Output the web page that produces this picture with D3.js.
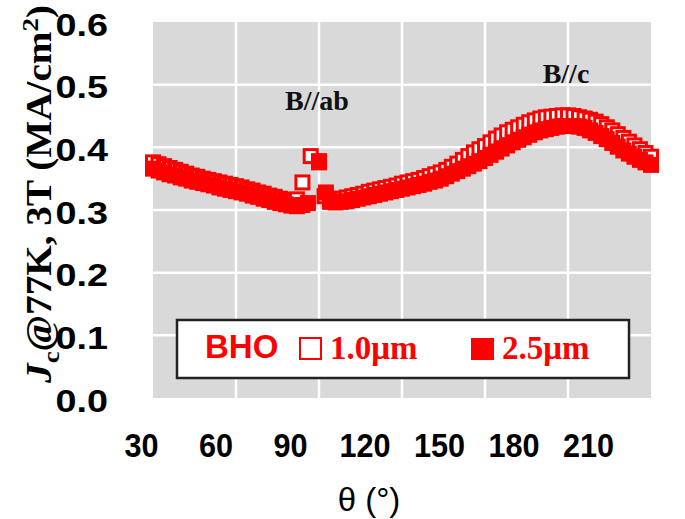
<!DOCTYPE html>
<html><head><meta charset="utf-8">
<script src="https://cdn.jsdelivr.net/npm/d3@7"></script>
<style>body{margin:0;background:#fff}</style></head>
<body><svg id="c" width="685" height="519"></svg>
<script>
// ---- data ----
const theta10 = [30,32,34,36,38,40,42,44,46,48,50,52,54,56,58,60,62,64,66,68,70,72,74,76,78,80,82,84,87,90,92,
  94,96,98,100,102,104,106,108,110,112,114,116,118,120,122,124,126,128,130,132,134,136,138,140,142,144,146,148,150,
  152,154,156,158,160,162,164,166,168,170,172,174,176,178,180,182,184,186,188,190,192,194,196,198,200,202,204,206,208,210];
const jc10 = [0.376,0.373,0.370,0.367,0.364,0.361,0.358,0.355,0.353,0.350,0.348,0.346,0.344,0.342,0.340,0.338,0.336,0.333,0.331,0.328,0.326,0.323,0.321,0.318,0.316,0.314,0.317,0.344,0.386,0.378,0.322,
  0.318,0.317,0.318,0.320,0.322,0.324,0.326,0.329,0.331,0.333,0.335,0.337,0.339,0.342,0.344,0.346,0.348,0.351,0.354,0.357,0.360,0.364,0.369,0.374,0.380,0.386,0.392,0.397,0.402,
  0.408,0.414,0.419,0.424,0.428,0.432,0.436,0.440,0.443,0.446,0.448,0.449,0.450,0.451,0.451,0.450,0.448,0.446,0.444,0.441,0.437,0.432,0.427,0.421,0.415,0.409,0.403,0.397,0.391,0.385];
const theta25 = [30,32,34,36,38,40,42,44,46,48,50,52,54,56,58,60,62,64,66,68,70,72,74,76,78,80,82,84,86,90,92.5,
  94,96,98,100,102,104,106,108,110,112,114,116,118,120,122,124,126,128,130,132,134,136,138,140,142,144,146,148,150,
  152,154,156,158,160,162,164,166,168,170,172,174,176,178,180,182,184,186,188,190,192,194,196,198,200,202,204,206,208,210];
const jc25 = [0.366,0.363,0.360,0.357,0.355,0.352,0.350,0.347,0.345,0.343,0.341,0.339,0.336,0.334,0.332,0.330,0.328,0.326,0.323,0.321,0.318,0.316,0.313,0.311,0.309,0.307,0.306,0.308,0.311,0.376,0.328,
  0.313,0.312,0.313,0.314,0.316,0.318,0.320,0.322,0.324,0.326,0.328,0.330,0.332,0.334,0.336,0.338,0.340,0.342,0.345,0.347,0.350,0.354,0.358,0.362,0.366,0.370,0.374,0.378,0.383,
  0.388,0.393,0.398,0.403,0.408,0.412,0.416,0.420,0.424,0.427,0.429,0.431,0.433,0.434,0.434,0.434,0.433,0.431,0.427,0.423,0.418,0.413,0.407,0.401,0.395,0.390,0.385,0.380,0.376,0.372];
const xTicks = [30,60,90,120,150,180,210];
const yTicks = [0,0.1,0.2,0.3,0.4,0.5,0.6];
const seriesNames = ["1.0μm","2.5μm"];
const groupName = "BHO";
const annotations = [{text:"B//ab", theta:90, jc:0.46},{text:"B//c", theta:180, jc:0.502}];

// ---- layout ----
const RED = "#ff0000";
const svg = d3.select("#c");
const x = d3.scaleLinear().domain([30,210]).range([153,651]);
const y = d3.scaleLinear().domain([0,0.6]).range([398,22]);
const xLab = d3.scaleLinear().domain([30,210]).range([141,588]);

// plot background
svg.append("rect").attr("x",x(30)).attr("y",y(0.6)).attr("width",x(210)-x(30)).attr("height",y(0)-y(0.6)).attr("fill","#d9d9d9");
// grid
svg.append("g").selectAll("line").data(xTicks.slice(1,-1)).join("line")
  .attr("x1",d=>x(d)).attr("x2",d=>x(d)).attr("y1",y(0.6)).attr("y2",y(0))
  .attr("stroke","#fff").attr("stroke-width",2.5);
svg.append("g").selectAll("line").data(yTicks.slice(1,-1)).join("line")
  .attr("y1",d=>y(d)).attr("y2",d=>y(d)).attr("x1",x(30)).attr("x2",x(210))
  .attr("stroke","#fff").attr("stroke-width",2.5);

// y axis labels
const gy = svg.append("g").attr("transform",`translate(108,0)`)
  .call(d3.axisLeft(y).tickValues(yTicks).tickFormat(d3.format(".1f")).tickSize(0).tickPadding(0));
gy.select(".domain").remove();
gy.selectAll("text").attr("font-family","Liberation Sans, Arial, sans-serif").attr("font-weight","bold")
  .attr("font-size",32).attr("fill","#000").attr("dy","13px")
  .each(function(){const w=this.getComputedTextLength(); d3.select(this).attr("textLength",w*1.18).attr("lengthAdjust","spacingAndGlyphs");});

// x axis labels
const gx = svg.append("g").attr("transform",`translate(0,457)`)
  .call(d3.axisBottom(xLab).tickValues(xTicks).tickSize(0).tickPadding(0));
gx.select(".domain").remove();
gx.selectAll("text").attr("font-family","Liberation Sans, Arial, sans-serif").attr("font-weight","bold")
  .attr("font-size",34).attr("fill","#000").attr("dy","0")
  .each(function(){const w=this.getComputedTextLength(); d3.select(this).attr("textLength",w*0.9).attr("lengthAdjust","spacingAndGlyphs");});

// axis titles
svg.append("text").attr("x",369).attr("y",511).attr("text-anchor","middle")
  .attr("font-family","Liberation Sans, Arial, sans-serif").attr("font-size",33).attr("fill","#000").text("θ (°)");

const yt = svg.append("text").attr("text-anchor","middle")
  .attr("font-family","Liberation Serif, Times New Roman, serif").attr("font-weight","bold").attr("font-size",35).attr("fill","#000");
yt.append("tspan").attr("font-style","italic").text("J");
yt.append("tspan").attr("font-size",24).attr("dy",8).text("c");
yt.append("tspan").attr("dy",-8).text("@77K, 3T (MA/cm");
yt.append("tspan").attr("font-size",24).attr("dy",-13).text("2");
yt.append("tspan").attr("dy",13).text(")");
const ytl = yt.node().getComputedTextLength();
yt.attr("transform",`translate(51,194) rotate(-90) scale(${378/ytl},1)`);

// markers: hollow (1.0um) under, filled (2.5um) on top
const d10 = theta10.map((t,i)=>({t, v:jc10[i]}));
const d25 = theta25.map((t,i)=>({t, v:jc25[i]}));
const S = 13;
svg.append("g").selectAll("rect").data(d10).join("rect")
  .attr("x",d=>x(d.t)-S/2).attr("y",d=>y(d.v)-S/2).attr("width",S).attr("height",S)
  .attr("fill","#fff").attr("stroke",RED).attr("stroke-width",3);
const F = 16;
svg.append("g").selectAll("rect").data(d25).join("rect")
  .attr("x",d=>x(d.t)-F/2).attr("y",d=>y(d.v)-F/2).attr("width",F).attr("height",F)
  .attr("fill",RED);

// annotations
svg.append("g").selectAll("text").data(annotations).join("text")
  .attr("x",d=>x(d.theta)-2).attr("y",d=>y(d.jc)).attr("text-anchor","middle")
  .attr("font-family","Liberation Serif, Times New Roman, serif").attr("font-weight","bold").attr("font-size",28)
  .attr("fill","#111").text(d=>d.text);

// legend
const lg = svg.append("g");
lg.append("rect").attr("x",177).attr("y",320).attr("width",452).attr("height",58)
  .attr("fill","#fff").attr("stroke","#222").attr("stroke-width",2.5);
lg.append("text").attr("x",205).attr("y",358).attr("font-family","Liberation Sans, Arial, sans-serif")
  .attr("font-weight","bold").attr("font-size",33).attr("fill",RED).text(groupName);
lg.append("rect").attr("x",300).attr("y",338).attr("width",21).attr("height",21)
  .attr("fill","#fff").attr("stroke",RED).attr("stroke-width",2);
lg.append("text").attr("x",330).attr("y",359).attr("font-family","Liberation Serif, Times New Roman, serif")
  .attr("font-weight","bold").attr("font-size",33).attr("fill",RED).text(seriesNames[0]);
lg.append("rect").attr("x",471).attr("y",338).attr("width",23).attr("height",22).attr("fill",RED);
lg.append("text").attr("x",502).attr("y",359).attr("font-family","Liberation Serif, Times New Roman, serif")
  .attr("font-weight","bold").attr("font-size",33).attr("fill",RED).text(seriesNames[1]);
</script>
</body></html>
